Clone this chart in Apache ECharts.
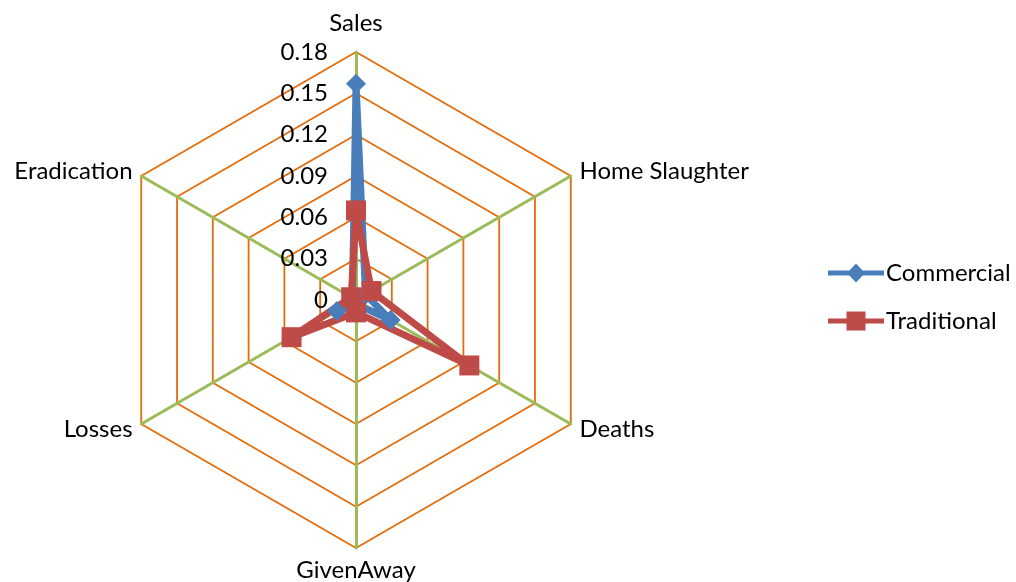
<!DOCTYPE html>
<html>
<head>
<meta charset="utf-8">
<script src="https://cdn.jsdelivr.net/npm/echarts@6/dist/echarts.min.js"></script>
<style>
  html, body { margin: 0; padding: 0; background: #fff; }
  #main { width: 1016px; height: 582px; }
</style>
</head>
<body>
<div id="main"></div>
<script>
// indicators, counter-clockwise from the top
var indicators = ['Sales', 'Eradication', 'Losses', 'GivenAway', 'Deaths', 'Home Slaughter'];
var maxValue = 0.18;
var commercial = [0.157, 0.003, 0.016, 0.003, 0.029, 0.008];
var traditional = [0.065, 0.004, 0.054, 0.009, 0.095, 0.013];

var font = 'Lato';
var chart = echarts.init(document.getElementById('main'));

var ind = indicators.map(function (n, i) {
  var o = { name: n, max: maxValue, min: 0 };
  if (i == 0) {
    o.axisLabel = { show: true };
    o.nameGap = 17;
  }
  return o;
});

var option = {
  animation: false,
  legend: {
    orient: 'vertical',
    left: 823,
    top: 256,
    itemWidth: 56,
    itemHeight: 20,
    itemGap: 24,
    textStyle: { fontFamily: font, fontSize: 24, color: '#000', padding: [0, 0, 0, -3] },
    data: [
      { name: 'Commercial', icon: 'path://M0 7.5L56 7.5L56 12.5L0 12.5ZM28 0.5L37 10L28 19.5L19 10Z' },
      { name: 'Traditional', icon: 'path://M0 7.5L56 7.5L56 12.5L0 12.5ZM18.5 0.5L37.5 0.5L37.5 19.5L18.5 19.5Z' }
    ]
  },
  radar: {
    center: [356, 300],
    radius: 248,
    startAngle: 90,
    shape: 'polygon',
    splitNumber: 6,
    nameGap: 10,
    indicator: ind,
    axisName: { color: '#000', fontFamily: font, fontSize: 24 },
    axisLine: { lineStyle: { color: '#9BBB59', width: 3 } },
    splitLine: { lineStyle: { color: '#E46C0A', width: 1.8 } },
    splitArea: { show: false },
    axisTick: { show: false },
    axisLabel: {
      show: false,
      margin: 28,
      color: '#000',
      fontFamily: font,
      fontSize: 24,
      formatter: function (v) { return v == 0 ? '0' : v.toFixed(2); }
    }
  },
  series: [{
    type: 'radar',
    data: [
      {
        name: 'Commercial', value: commercial,
        symbol: 'diamond', symbolSize: 20,
        itemStyle: { color: '#4A7EBB' },
        lineStyle: { color: '#4A7EBB', width: 7 }
      },
      {
        name: 'Traditional', value: traditional,
        symbol: 'rect', symbolSize: 20,
        itemStyle: { color: '#BE4B48' },
        lineStyle: { color: '#BE4B48', width: 7 }
      }
    ]
  }]
};

chart.setOption(option);
</script>
</body>
</html>
